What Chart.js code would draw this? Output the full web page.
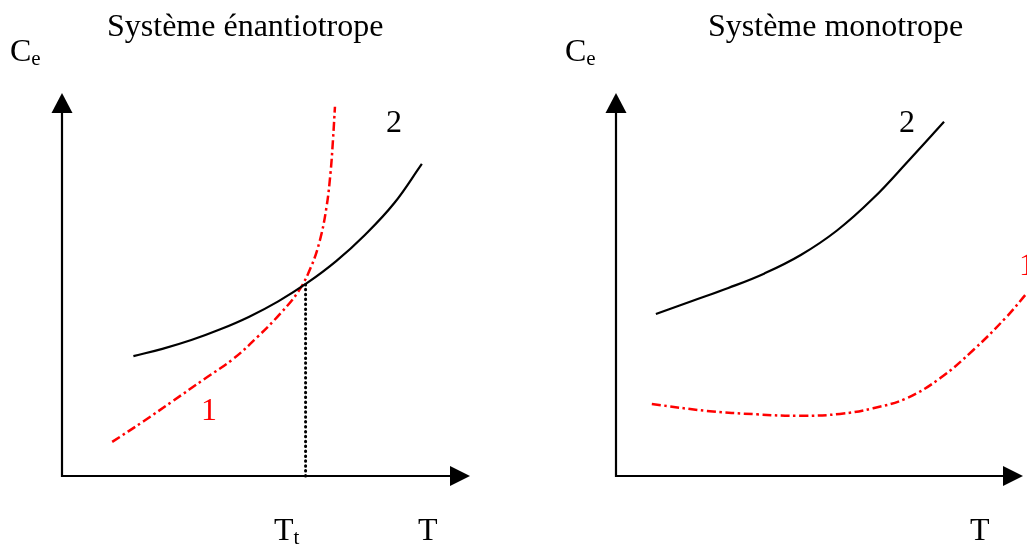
<!DOCTYPE html>
<html>
<head>
<meta charset="utf-8">
<script src="https://cdn.jsdelivr.net/npm/chart.js@4"></script>
<style>
  html, body { margin: 0; padding: 0; background: #fff; }
  #wrap { position: relative; width: 1027px; height: 546px; overflow: hidden; }
  canvas { position: absolute; top: 0; }
  #gauche { left: 0; }
  #droite { left: 513px; }
</style>
</head>
<body>
<div id="wrap">
  <canvas id="gauche" width="513" height="546"></canvas>
  <canvas id="droite" width="514" height="546"></canvas>
</div>
<script>
// valeurs (unités arbitraires, 0..100)
const enantioT2 = [17.5, 24.6, 31.7, 38.8, 45.9, 53.0, 60.1, 67.2, 74.3, 81.4, 88.2];
const enantioC2 = [31.3, 33.2, 35.5, 38.3, 41.6, 45.6, 50.4, 56.1, 63.0, 71.2, 81.5];
const enantioT1 = [12.3, 20.0, 27.2, 35.0, 42.0, 48.0, 53.5, 58.0, 61.0, 63.2, 64.8, 65.8, 66.4, 66.9];
const enantioC1 = [8.9, 14.3, 19.6, 25.4, 30.6, 36.4, 42.4, 48.3, 54.5, 61.5, 70.0, 79.0, 87.5, 96.4];
const transitionT = [59.7, 59.7];
const transitionC = [0, 50.5];

const monoT2 = [9.8, 18.7, 27.6, 36.5, 45.4, 54.3, 63.2, 72.1, 80.6];
const monoC2 = [42.3, 45.7, 49.1, 52.9, 57.7, 64.1, 72.5, 82.6, 92.5];
const monoT1 = [8.8, 22.3, 34.6, 45.2, 55.0, 63.2, 71.4, 79.6, 87.8, 96.0, 100.9];
const monoC1 = [18.8, 17.0, 16.1, 15.7, 16.2, 17.7, 20.3, 25.5, 32.9, 41.6, 47.7];

const POLICE = '"Liberation Serif", "Times New Roman", serif';

function points(xs, ys) {
    return xs.map((x, i) => ({ x: x, y: ys[i] }));
}

// axes avec flèches
const axesFleches = {
    id: 'axesFleches',
    beforeDatasetsDraw(chart) {
        const ctx = chart.ctx;
        const a = chart.chartArea;
        const x0 = chart.scales.x.getPixelForValue(0);
        const y0 = chart.scales.y.getPixelForValue(0);
        ctx.save();
        ctx.strokeStyle = '#000';
        ctx.fillStyle = '#000';
        ctx.lineWidth = 2.2;
        ctx.beginPath();
        ctx.moveTo(x0, y0);
        ctx.lineTo(x0, a.top + 18);
        ctx.moveTo(x0 - 1.1, y0);
        ctx.lineTo(a.right - 18, y0);
        ctx.stroke();
        ctx.beginPath();
        ctx.moveTo(x0, a.top);
        ctx.lineTo(x0 - 10.5, a.top + 20);
        ctx.lineTo(x0 + 10.5, a.top + 20);
        ctx.closePath();
        ctx.fill();
        ctx.beginPath();
        ctx.moveTo(a.right, y0);
        ctx.lineTo(a.right - 20, y0 - 10);
        ctx.lineTo(a.right - 20, y0 + 10);
        ctx.closePath();
        ctx.fill();
        ctx.restore();
    }
};

// textes : titre, axes, numéros des courbes
const textes = {
    id: 'textes',
    afterDraw(chart, args, opts) {
        const ctx = chart.ctx;
        ctx.save();
        ctx.textBaseline = 'alphabetic';
        ctx.textAlign = 'left';
        for (const t of opts.items) {
            ctx.fillStyle = t.couleur || '#000';
            ctx.font = '32px ' + POLICE;
            ctx.fillText(t.texte, t.x, t.y);
            if (t.indice) {
                const w = ctx.measureText(t.texte).width;
                ctx.font = '21px ' + POLICE;
                ctx.fillText(t.indice, t.x + w, t.y + 4);
            }
        }
        ctx.restore();
    }
};

function options(padding, items) {
    return {
        responsive: false,
        animation: false,
        devicePixelRatio: 1,
        layout: { padding: padding },
        scales: {
            x: { type: 'linear', min: 0, max: 100, display: false },
            y: { type: 'linear', min: 0, max: 100, display: false }
        },
        elements: { point: { radius: 0 } },
        plugins: {
            legend: { display: false },
            tooltip: { enabled: false },
            textes: { items: items }
        }
    };
}

const styleNoir = { borderColor: '#000', borderWidth: 2.2, tension: 0.4, fill: false, clip: false };
const styleRouge = { borderColor: '#ff0000', borderWidth: 2.5, borderDash: [9, 3.5, 2.5, 3.5], tension: 0.4, fill: false, clip: false };

new Chart(document.getElementById('gauche'), {
    type: 'line',
    data: {
        datasets: [
            Object.assign({ label: '2', data: points(enantioT2, enantioC2) }, styleNoir),
            Object.assign({ label: '1', data: points(enantioT1, enantioC1) }, styleRouge),
            {
                label: 'Tt', data: points(transitionT, transitionC),
                borderColor: '#000', borderWidth: 3, borderDash: [0.5, 4.4], borderCapStyle: 'round', clip: false
            }
        ]
    },
    options: options({ left: 62, right: 43, top: 93, bottom: 70 }, [
        { texte: 'Système énantiotrope', x: 107, y: 36 },
        { texte: 'C', indice: 'e', x: 10, y: 61 },
        { texte: '2', x: 386, y: 132 },
        { texte: '1', x: 201, y: 420, couleur: '#ff0000' },
        { texte: 'T', indice: 't', x: 274, y: 540 },
        { texte: 'T', x: 418, y: 540 }
    ]),
    plugins: [axesFleches, textes]
});

new Chart(document.getElementById('droite'), {
    type: 'line',
    data: {
        datasets: [
            Object.assign({ label: '2', data: points(monoT2, monoC2) }, styleNoir),
            Object.assign({ label: '1', data: points(monoT1, monoC1) }, styleRouge)
        ]
    },
    options: options({ left: 103, right: 4, top: 93, bottom: 70 }, [
        { texte: 'Système monotrope', x: 708 - 513, y: 36 },
        { texte: 'C', indice: 'e', x: 565 - 513, y: 61 },
        { texte: '2', x: 899 - 513, y: 132 },
        { texte: '1', x: 1019 - 513, y: 275, couleur: '#ff0000' },
        { texte: 'T', x: 970 - 513, y: 540 }
    ]),
    plugins: [axesFleches, textes]
});
</script>
</body>
</html>
